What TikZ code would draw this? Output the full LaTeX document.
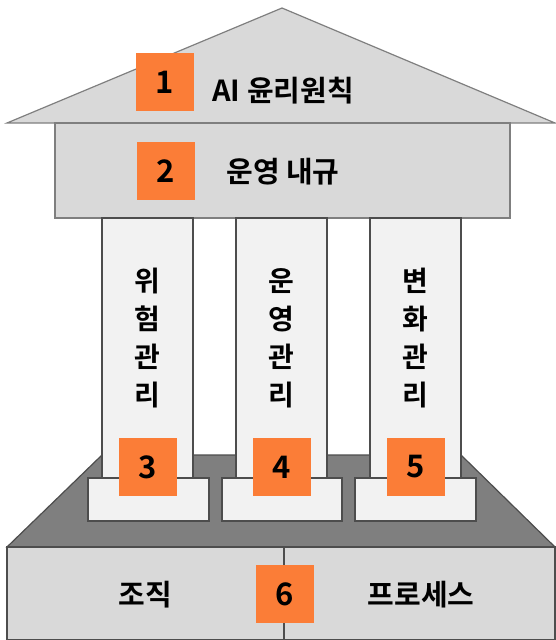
\documentclass[tikz,border=0pt]{standalone}
\usepackage{fontspec}
\setmainfont{Noto Sans CJK KR}[BoldFont={Noto Sans CJK KR Bold}]
\definecolor{roofgray}{HTML}{D9D9D9}
\definecolor{linegray}{HTML}{7F7F7F}
\definecolor{colfill}{HTML}{F2F2F2}
\definecolor{darkline}{HTML}{4D4D4D}
\definecolor{platgray}{HTML}{7F7F7F}
\definecolor{numorange}{HTML}{FB7D37}
\tikzset{
  roofpart/.style={fill=roofgray, draw=linegray, line width=1.2pt},
  colpart/.style={fill=colfill, draw=darkline, line width=1.2pt},
  platpart/.style={fill=platgray, draw=darkline, line width=1.2pt},
  basepart/.style={fill=roofgray, draw=darkline, line width=1.2pt},
  numbox/.style={fill=numorange, minimum width=58pt, minimum height=58pt, inner sep=0pt, font=\fontsize{31}{34}\selectfont\bfseries},
  lbl/.style={inner sep=0pt, font=\fontsize{29}{34}\selectfont\bfseries},
  vlbl/.style={inner sep=0pt, align=center, font=\fontsize{28}{38}\selectfont\bfseries}
}
\begin{document}
\begin{tikzpicture}[x=1pt,y=-1pt]
\useasboundingbox (0,0) rectangle (555,640);
% platform
\draw[platpart] (7,547) -- (102,455) -- (461,455) -- (555,547) -- cycle;
% roof
\draw[roofpart] (7,123) -- (282,8) -- (555,123) -- cycle;
\draw[roofpart] (55,123) rectangle (510,218);
% columns
\draw[colpart] (102,218) rectangle (193,478);
\draw[colpart] (236,218) rectangle (327,478);
\draw[colpart] (370,218) rectangle (461,478);
% bases
\draw[colpart] (88,478) rectangle (209,521);
\draw[colpart] (222,478) rectangle (342,521);
\draw[colpart] (355,478) rectangle (476,521);
% bottom block
\draw[basepart] (7,547) rectangle (284,640);
\draw[basepart] (284,547) rectangle (555,640);
% numbers
\node[numbox] (n1) at (165,82) {1};
\node[numbox] (n2) at (166,171) {2};
\node[numbox] (n3) at (148,467) {3};
\node[numbox] (n4) at (282,467) {4};
\node[numbox] (n5) at (416,467) {5};
\node[numbox] (n6) at (285,594) {6};
% labels
\node[lbl] (t1) at (283,91) {AI 윤리원칙};
\node[lbl] (t2) at (283,172) {운영 내규};
\node[vlbl] (c1) at (147.5,338) {위\\험\\관\\리};
\node[vlbl] (c2) at (281.5,338) {운\\영\\관\\리};
\node[vlbl] (c3) at (415.5,338) {변\\화\\관\\리};
\node[lbl] (b1) at (145,595) {조직};
\node[lbl] (b2) at (421,595) {프로세스};
\end{tikzpicture}
\end{document}
